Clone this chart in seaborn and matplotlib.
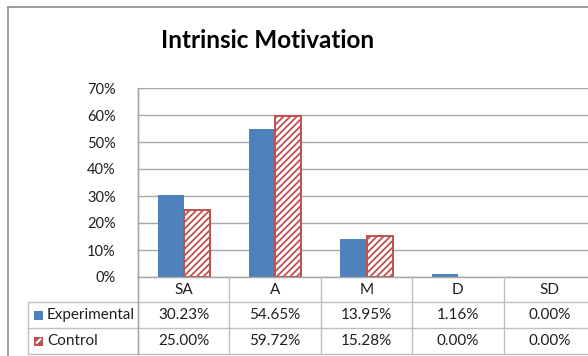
import matplotlib
matplotlib.use("Agg")
import matplotlib.pyplot as plt
from matplotlib.patches import Rectangle
import seaborn as sns
import pandas as pd

# Survey responses (percent of each group)
categories = ["SA", "A", "M", "D", "SD"]
series_names = ["Experimental", "Control"]
experimental = [30.23, 54.65, 13.95, 1.16, 0.00]
control = [25.00, 59.72, 15.28, 0.00, 0.00]
y_ticks = [0, 10, 20, 30, 40, 50, 60, 70]
title = "Intrinsic Motivation"

BLUE = "#4F81BD"
RED = "#C0504D"
GRID = "#A6A6A6"
TABLE_LINE = "#BFBFBF"
TEXT = "#1F1F1F"

sns.set_theme(style="white")
plt.rcParams["font.family"] = ["Lato", "DejaVu Sans"]
plt.rcParams["hatch.linewidth"] = 1.3

W, H = 588, 356
fig = plt.figure(figsize=(W / 100, H / 100), dpi=100)
fig.patch.set_facecolor("white")

# plot area in pixel coordinates (left, top, right, bottom)
pl, pt, pr, pb = 138, 88, 595, 277
ax = fig.add_axes([pl / W, (H - pb) / H, (pr - pl) / W, (pb - pt) / H])

df = pd.DataFrame({
    "category": categories * 2,
    "group": [series_names[0]] * len(categories) + [series_names[1]] * len(categories),
    "value": experimental + control,
})
sns.barplot(data=df, x="category", y="value", hue="group", order=categories,
            hue_order=series_names, palette=[BLUE, "white"], width=0.57,
            gap=0, legend=False, ax=ax, saturation=1)

for bar in ax.containers[0]:
    bar.set_edgecolor(BLUE)
    bar.set_linewidth(0)
for bar, v in zip(ax.containers[1], control):
    bar.set_facecolor("white")
    bar.set_edgecolor(RED)
    bar.set_hatch("/////")
    bar.set_linewidth(1.4)
    if v <= 0:
        bar.set_visible(False)

ax.set_xlim(-0.5, len(categories) - 0.5)
ax.set_ylim(0, 70)
ax.set_yticks(y_ticks)
ax.set_yticklabels([f"{t}%" for t in y_ticks], fontsize=10.5, color=TEXT)
ax.tick_params(axis="y", length=0, pad=16)
ax.set_xticks([])
ax.set_xlabel("")
ax.set_ylabel("")
ax.yaxis.grid(True, color=GRID, linewidth=1)
ax.set_axisbelow(True)
for side in ["top", "right"]:
    ax.spines[side].set_visible(False)
ax.spines["left"].set_color(GRID)
ax.spines["bottom"].set_color(GRID)
ax.spines["left"].set_linewidth(1)
ax.spines["bottom"].set_linewidth(1)

# overlay in pixel coordinates for the frame and the data table
ov = fig.add_axes([0, 0, 1, 1], facecolor="none")
ov.set_xlim(0, W)
ov.set_ylim(H, 0)
ov.axis("off")

# chart frame
ov.plot([8, 8], [7, H], color="#8C8C8C", lw=1.2)
ov.plot([8, W], [7, 7], color="#8C8C8C", lw=1.2)

ov.text(268, 40, title, ha="center", va="center", fontsize=17.5,
        fontweight="bold", color="black")

# category boundaries in pixels, taken from the bar axes
fig.canvas.draw()
def px(xdata):
    return ax.transData.transform((xdata, 0))[0]

bounds = [px(i - 0.5) for i in range(len(categories) + 1)]
centers = [px(i) for i in range(len(categories))]

r0, r1, r2, r3 = pb, 302, 328, 354
left_col = 28

# table grid
for x in bounds:
    ov.plot([x, x], [r0, r3], color=TABLE_LINE, lw=1)
ov.plot([left_col, W], [r1, r1], color=TABLE_LINE, lw=1)
ov.plot([left_col, W], [r2, r2], color=TABLE_LINE, lw=1)
ov.plot([left_col, W], [r3, r3], color=TABLE_LINE, lw=1)
ov.plot([left_col, left_col], [r1, r3], color=TABLE_LINE, lw=1)
ov.plot([pl, pl], [pt, r3], color=GRID, lw=1)

fs = 11
rows = [(r0 + r1) / 2, (r1 + r2) / 2, (r2 + r3) / 2]
for c, name in zip(centers, categories):
    ov.text(c, rows[0], name, ha="center", va="center", fontsize=fs, color=TEXT)
for c, v in zip(centers, experimental):
    ov.text(c, rows[1], f"{v:.2f}%", ha="center", va="center", fontsize=fs, color=TEXT)
for c, v in zip(centers, control):
    ov.text(c, rows[2], f"{v:.2f}%", ha="center", va="center", fontsize=fs, color=TEXT)

# legend keys inside the table
kx, ks = 34, 9
ov.add_patch(Rectangle((kx, rows[1] - ks / 2), ks, ks, facecolor=BLUE, edgecolor=BLUE, lw=0))
ov.add_patch(Rectangle((kx, rows[2] - ks / 2), ks, ks, facecolor=RED, edgecolor=RED, lw=0))
ov.plot([kx + 2, kx + ks - 2], [rows[2] + ks / 2 - 2, rows[2] - ks / 2 + 2],
        color="white", lw=1.6, solid_capstyle="butt")
ov.text(47, rows[1], series_names[0], ha="left", va="center", fontsize=fs, color=TEXT)
ov.text(47, rows[2], series_names[1], ha="left", va="center", fontsize=fs, color=TEXT)

fig.savefig("out.png", dpi=100, facecolor="white")
